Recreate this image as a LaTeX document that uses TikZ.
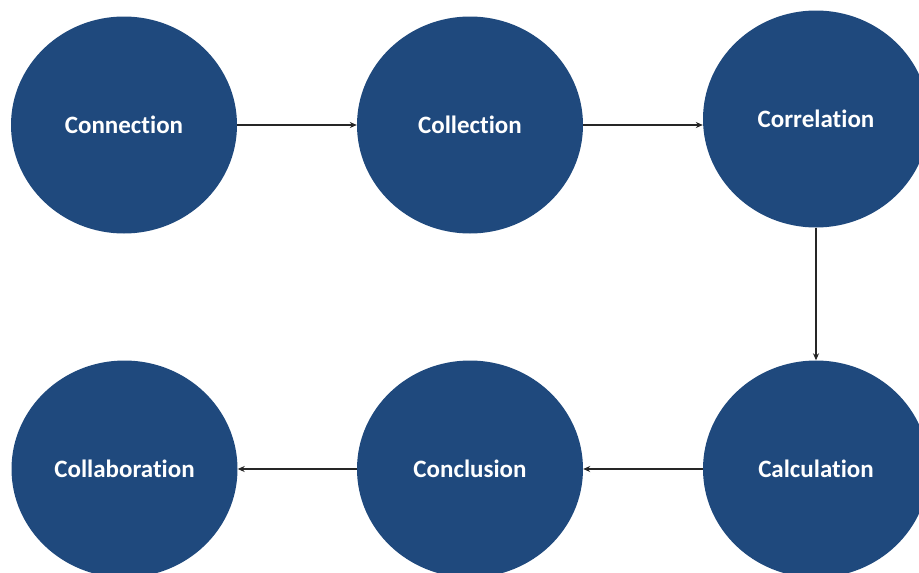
\documentclass[tikz,border=0pt]{standalone}
\usepackage{fontspec}
\newfontfamily\labelfont[Ligatures={NoCommon,NoRare,NoContextual}]{Carlito}
\usetikzlibrary{shapes.geometric,arrows.meta}
\definecolor{stageblue}{HTML}{1F497D}
\begin{document}
\begin{tikzpicture}[x=1pt,y=-1pt,
  stage/.style={ellipse,fill=stageblue,minimum width=226pt,minimum height=217pt,
    inner sep=0pt,text=white,font=\labelfont\bfseries\fontsize{25}{29}\selectfont},
  flow/.style={line width=1.1pt,draw=black!85,-{Stealth[length=7pt,width=6pt]}}]
  \useasboundingbox (0,0) rectangle (919,573);
  % top row
  \node[stage] (connection)  at (124,125) {Connection};
  \node[stage] (collection)  at (470,125) {Collection};
  \node[stage] (correlation) at (816,119) {Correlation};
  % bottom row
  \node[stage] (calculation)   at (816,469) {Calculation};
  \node[stage] (conclusion)    at (470,469) {Conclusion};
  \node[stage] (collaboration) at (124.5,469) {Collaboration};
  % connectors
  \draw[flow] (connection.east) -- (collection.west);
  \draw[flow] (collection.east) -- (collection.east -| correlation.west);
  \draw[flow] (correlation.south) -- (calculation.north);
  \draw[flow] (calculation.west) -- (conclusion.east);
  \draw[flow] (conclusion.west) -- (collaboration.east);
\end{tikzpicture}
\end{document}
